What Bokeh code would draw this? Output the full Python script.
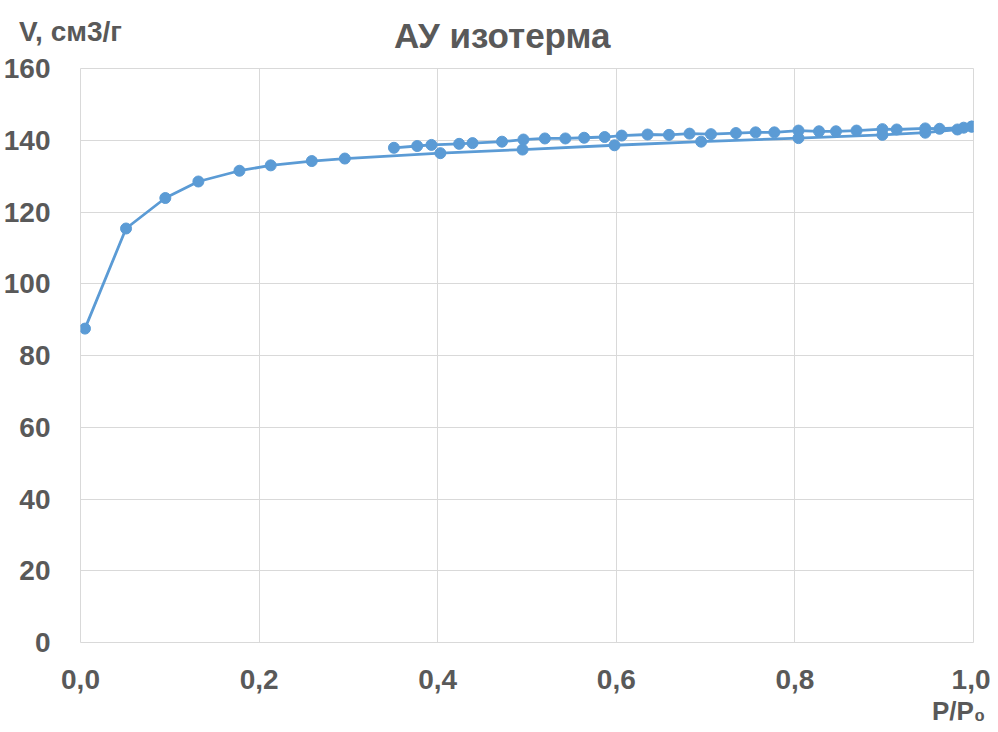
from bokeh.plotting import figure
from bokeh.layouts import column
from bokeh.models import Range1d, FixedTicker, Title, Div
from bokeh.embed import file_html
from bokeh.resources import INLINE

# Adsorption branch (lower) and desorption branch (upper)
ads_x = [0.005, 0.051, 0.095, 0.132, 0.178, 0.213, 0.259, 0.296, 0.403, 0.495,
         0.598, 0.695, 0.804, 0.898, 0.946, 0.982, 0.998]
ads_y = [87.5, 115.4, 123.9, 128.5, 131.5, 133.0, 134.2, 134.9, 136.4, 137.4,
         138.6, 139.6, 140.6, 141.5, 142.1, 143.0, 143.8]

des_x = [0.998, 0.989, 0.962, 0.946, 0.914, 0.898, 0.869, 0.846, 0.827, 0.804,
         0.777, 0.756, 0.734, 0.706, 0.682, 0.659, 0.635, 0.606, 0.587, 0.564,
         0.543, 0.520, 0.496, 0.472, 0.439, 0.424, 0.393, 0.377, 0.351]
des_y = [143.8, 143.5, 143.2, 143.3, 143.0, 143.1, 142.7, 142.5, 142.5, 142.7,
         142.2, 142.2, 142.0, 141.7, 141.85, 141.5, 141.6, 141.3, 140.9, 140.7,
         140.5, 140.5, 140.2, 139.6, 139.2, 139.0, 138.7, 138.4, 137.9]

x_ticks = [0.0, 0.2, 0.4, 0.6, 0.8, 1.0]
x_tick_labels = ["0,0", "0,2", "0,4", "0,6", "0,8", "1,0"]
y_ticks = [0, 20, 40, 60, 80, 100, 120, 140, 160]

title_text = "АУ изотерма"
y_title = "V, см3/г"
x_title = "P/P\u2080"

BLUE = "#5B9BD5"
TXT = "#595959"
GRID = "#D9D9D9"
FONT = "Liberation Sans"
W = 990
TOP_H = 52
FIG_H = 732 - TOP_H


def span(text, left, baseline, size):
    top = baseline - 0.8465 * size
    return (f'<span style="position:absolute;left:{left}px;top:{top:.1f}px;'
            f'font-size:{size}px;line-height:{size}px;white-space:nowrap;">'
            f'{text}</span>')


html = (f'<div style="position:relative;width:{W}px;height:{TOP_H}px;'
        f"overflow:visible;font-family:'{FONT}';font-weight:bold;"
        f'color:{TXT};">'
        + span(y_title, 19, 42, 28)
        + span(title_text, 394, 48, 35)
        + '</div>')
top = Div(text=html, width=W, height=TOP_H, margin=0,
          styles={"overflow": "visible", "z-index": "1"})

p = figure(width=W, height=FIG_H, output_backend="svg", toolbar_location=None,
           x_range=Range1d(0, 1), y_range=Range1d(0, 160),
           min_border_left=79, min_border_right=W - 973,
           min_border_top=68 - TOP_H, min_border_bottom=FIG_H - (642 - TOP_H))
p.outline_line_color = GRID
p.background_fill_color = "white"
p.border_fill_color = None

p.xaxis.ticker = FixedTicker(ticks=x_ticks)
p.xaxis.major_label_overrides = {t: l for t, l in zip(x_ticks, x_tick_labels)}
p.yaxis.ticker = FixedTicker(ticks=y_ticks)
for ax in (p.xaxis, p.yaxis):
    ax.axis_line_color = None
    ax.major_tick_line_color = None
    ax.minor_tick_line_color = None
    ax.major_label_text_font = FONT
    ax.major_label_text_font_style = "bold"
    ax.major_label_text_font_size = "28px"
    ax.major_label_text_color = TXT
p.xaxis.major_label_standoff = 21
p.yaxis.major_label_standoff = 24

p.xgrid.grid_line_color = GRID
p.ygrid.grid_line_color = GRID
p.xgrid.ticker = FixedTicker(ticks=x_ticks)
p.ygrid.ticker = FixedTicker(ticks=y_ticks)

p.line(ads_x, ads_y, line_color=BLUE, line_width=2.8)
p.line(des_x, des_y, line_color=BLUE, line_width=2.8)
p.scatter(ads_x, ads_y, size=11, fill_color=BLUE, line_color=BLUE)
p.scatter(des_x, des_y, size=11, fill_color=BLUE, line_color=BLUE)

p.add_layout(Title(text=x_title, align="right", offset=-12, standoff=4,
                   text_font=FONT, text_font_style="bold",
                   text_font_size="26px", text_color=TXT), "below")

layout = column(top, p, spacing=0)
open("out.html", "w").write(file_html(layout, INLINE))
